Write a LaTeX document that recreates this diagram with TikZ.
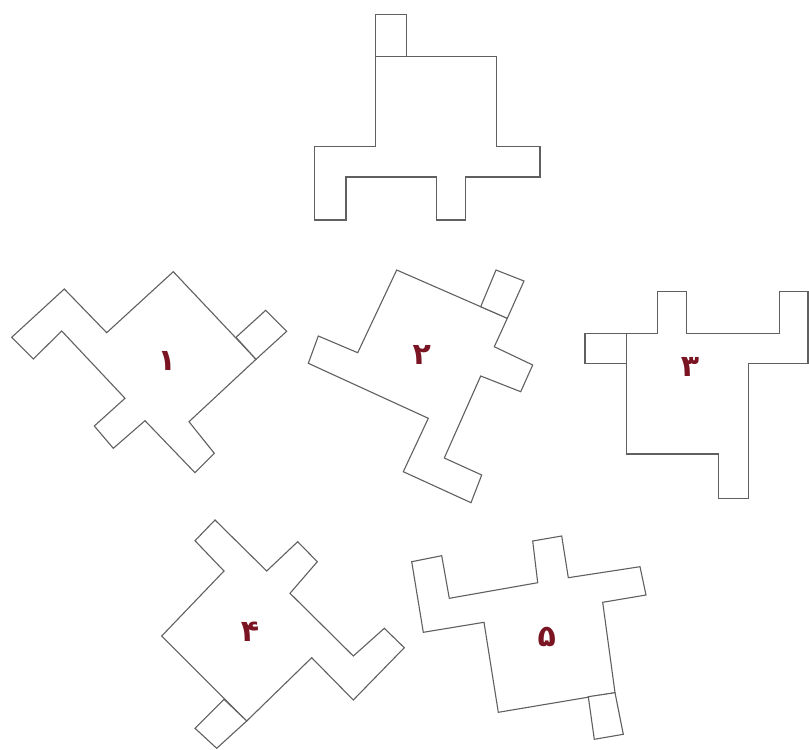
\documentclass[tikz,border=0pt]{standalone}
\usepackage{fontspec}
\newfontfamily\arabicfont[Script=Arabic]{DejaVu Sans}
\TeXXeTstate=1
\definecolor{edge}{HTML}{606060}
\definecolor{lab}{HTML}{7A1422}
\tikzset{
  piece/.style={draw=edge, line width=1.1pt, line join=miter, fill=white},
  num/.style={text=lab, font=\arabicfont\bfseries\fontsize{30}{32}\selectfont, inner sep=0pt}
}
\begin{document}
\begin{tikzpicture}[x=1pt,y=-1pt]
\useasboundingbox (0,0) rectangle (809,750);
% top figure
\draw[piece] (375.7,56.7) -- (496.7,56.7) -- (496.7,146.7) -- (540,146.7) -- (540,177) -- (465.7,177) -- (465.7,220) -- (436.7,220) -- (436.7,177) -- (346,177) -- (346,220) -- (314.3,220) -- (314.3,146.7) -- (375.7,146.7) -- cycle;
\draw[piece] (375.7,14.3) rectangle (406.7,56.7);
% figure 1
\draw[piece] (173.3,271.7) -- (256,359.3) -- (189,421.7) -- (214.3,453.3) -- (195,472.7) -- (145,420.7) -- (113.3,448.3) -- (94.3,426) -- (125,398.3) -- (61.7,331) -- (33.3,359) -- (11.7,337.3) -- (64.3,289) -- (106.7,332.7) -- cycle;
\draw[piece] (236,337.3) -- (265.7,310.3) -- (286.7,331.3) -- (256,359.3) -- cycle;
\node[num] (n1) at (166.7,361) {\beginR ١\endR};
% figure 2
\draw[piece] (396.7,270) -- (507.3,318.3) -- (494.3,346.7) -- (532.7,365) -- (520.7,391.7) -- (480.7,376) -- (444.3,458) -- (481.7,475) -- (471,502.7) -- (403.3,471.7) -- (428.3,418.3) -- (308.3,363.3) -- (318.3,336) -- (357.7,352.7) -- cycle;
\draw[piece] (480.7,306.7) -- (496,270) -- (524,281) -- (507.3,318.3) -- cycle;
\node[num] (n2) at (421.7,355) {\beginR ٢\endR};
% figure 3
\draw[piece] (626.7,333.3) -- (657.7,333.3) -- (657.7,291.7) -- (686.7,291.7) -- (686.7,333.3) -- (779.3,333.3) -- (779.3,291.7) -- (808,291.7) -- (808,363.3) -- (748.3,363.3) -- (748.3,498.3) -- (718.3,498.3) -- (718.3,454) -- (626.7,454) -- cycle;
\draw[piece] (585,333.3) rectangle (626.7,363.3);
\node[num] (n3) at (690,366.7) {\beginR ٣\endR};
% figure 4
\draw[piece] (215,520) -- (266.7,571) -- (297.7,541.7) -- (317.3,561.7) -- (290,593.3) -- (353.3,656) -- (384.3,628.3) -- (404.3,647.7) -- (353.3,700) -- (311.7,657.7) -- (246.7,721) -- (161.7,636) -- (224,571) -- (195,540.7) -- cycle;
\draw[piece] (246.7,721) -- (224,699.3) -- (195,728.3) -- (216.7,748.3) -- cycle;
\node[num] (n4) at (250,631.7) {\beginR ۴\endR};
% figure 5
\draw[piece] (411.7,561.7) -- (441.7,555.7) -- (449.3,598.3) -- (537.7,582.7) -- (532.7,541) -- (561.7,536) -- (568.3,577.7) -- (640,566.7) -- (646,595) -- (602.7,602.3) -- (615,692.7) -- (498.3,712.3) -- (484,622.3) -- (423.3,632.3) -- cycle;
\draw[piece] (615,692.7) -- (623.3,734.3) -- (594.3,739.3) -- (588.3,696.7) -- cycle;
\node[num] (n5) at (546.7,636.7) {\beginR ۵\endR};
\end{tikzpicture}
\end{document}
